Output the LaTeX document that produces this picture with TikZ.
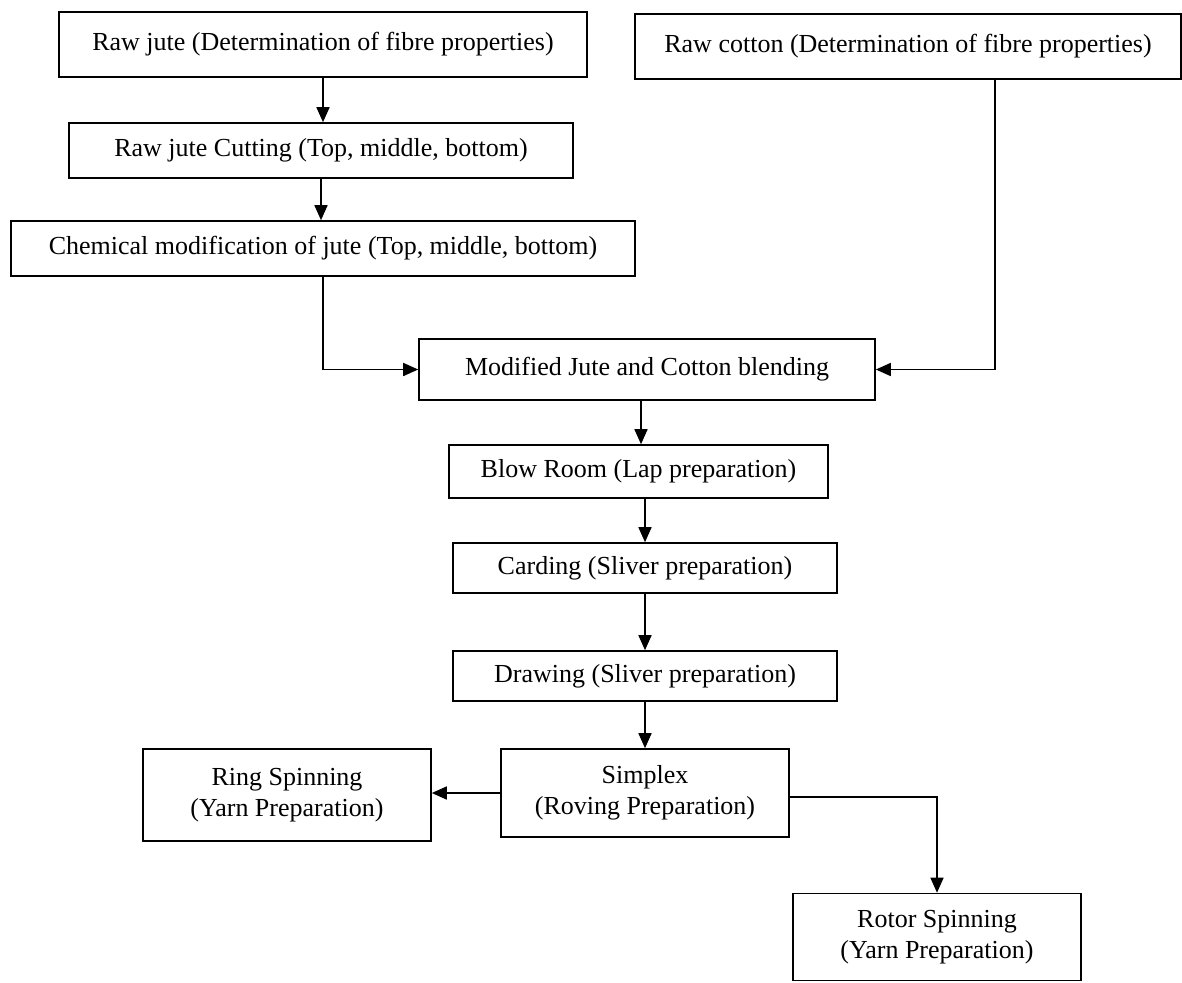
\documentclass[tikz,border=0pt]{standalone}
\usepackage{fontspec}
\setmainfont{Liberation Serif}
\usetikzlibrary{arrows.meta}
\begin{document}
\begin{tikzpicture}[x=1pt,y=-1pt,
  box/.style={draw, line width=1.6pt, inner sep=0pt, align=center, font=\fontsize{26}{31}\selectfont},
  arr/.style={line width=1.6pt, -{Triangle[length=15pt,width=13pt]}},
  ln/.style={line width=1.6pt}]
\useasboundingbox (0,0) rectangle (1182,982);
\node[box, minimum width=528pt, minimum height=65pt] (rj) at (323,44.5) {Raw jute (Determination of fibre properties)};
\node[box, minimum width=546pt, minimum height=65pt] (rc) at (908,46.5) {Raw cotton (Determination of fibre properties)};
\node[box, minimum width=504pt, minimum height=55pt] (cut) at (321,150.5) {Raw jute Cutting (Top, middle, bottom)};
\node[box, minimum width=624pt, minimum height=55pt] (chem) at (323,248.5) {Chemical modification of jute (Top, middle, bottom)};
\node[box, minimum width=456pt, minimum height=61pt] (blend) at (647,369.5) {Modified Jute and Cotton blending};
\node[box, minimum width=379pt, minimum height=53pt] (blow) at (638.5,471.5) {Blow Room (Lap preparation)};
\node[box, minimum width=384pt, minimum height=50pt] (card) at (645,568) {Carding (Sliver preparation)};
\node[box, minimum width=384pt, minimum height=50pt] (drw) at (645,676) {Drawing (Sliver preparation)};
\node[box, minimum width=288pt, minimum height=88pt] (simp) at (645,793) {Simplex\\(Roving Preparation)};
\node[box, minimum width=288pt, minimum height=92pt] (ring) at (287,795) {Ring Spinning\\(Yarn Preparation)};
\node[box, minimum width=288pt, minimum height=87pt] (rot) at (937,937) {Rotor Spinning\\(Yarn Preparation)};

\draw[arr] (rj.south) -- (rj.south |- cut.north);
\draw[arr] (cut.south) -- (cut.south |- chem.north);
\draw[arr] (chem.south) |- (blend.west);
\draw[arr] ([xshift=87pt]rc.south) |- (blend.east);
\draw[arr] ([xshift=-6pt]blend.south) -- ([xshift=-6pt]blend.south |- blow.north);
\draw[arr] (card.north |- blow.south) -- (card.north);
\draw[arr] (card.south) -- (drw.north);
\draw[arr] (drw.south) -- (simp.north);
\draw[arr] (simp.west) -- (simp.west -| ring.east);
\draw[arr] ([yshift=-4pt]simp.east) -| (rot.north);
\end{tikzpicture}
\end{document}
